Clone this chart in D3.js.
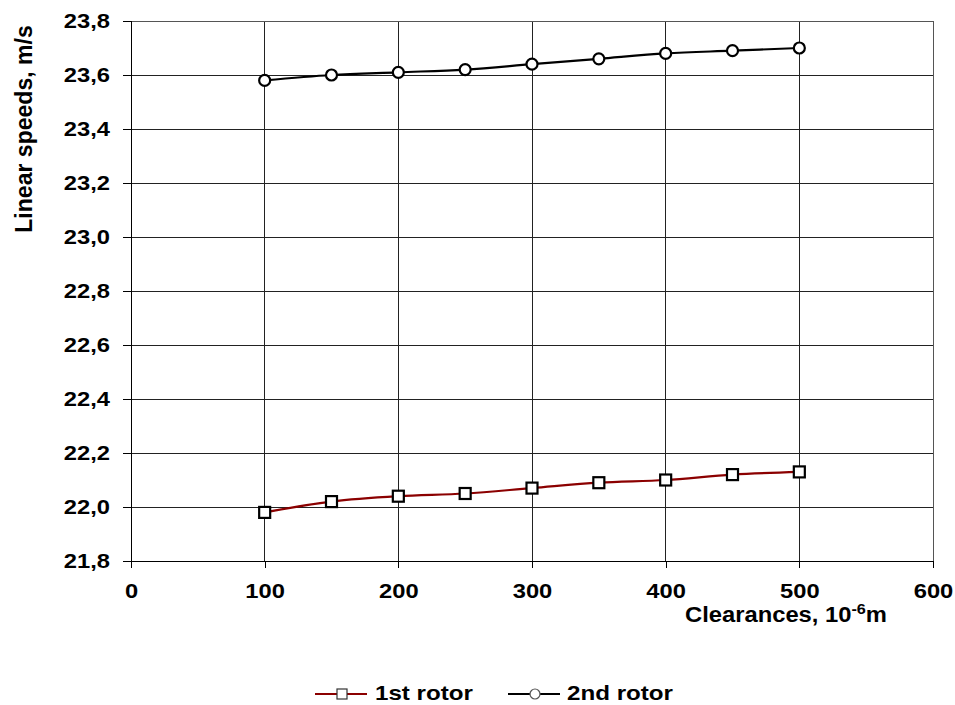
<!DOCTYPE html>
<html><head><meta charset="utf-8">
<script src="https://cdn.jsdelivr.net/npm/d3@7/dist/d3.min.js"></script>
<style>body{margin:0;background:#fff;} text{font-family:"Liberation Sans",Arial,sans-serif;font-weight:bold;fill:#000;}</style>
</head><body><svg id="c" width="955" height="705"></svg>
<script>
const clearances = [100,150,200,250,300,350,400,450,500];
const rotor1 = [21.98,22.02,22.04,22.05,22.07,22.09,22.10,22.12,22.13];
const rotor2 = [23.58,23.60,23.61,23.62,23.64,23.66,23.68,23.69,23.70];
const xTicks = [0,100,200,300,400,500,600];
const yTicks = [21.8,22.0,22.2,22.4,22.6,22.8,23.0,23.2,23.4,23.6,23.8];
const seriesNames = ["1st rotor","2nd rotor"];
const seriesColors = ["#8B0000","#000000"];

const svg = d3.select("#c");
const L=131, R=933, T=21, B=561;
const x = d3.scaleLinear().domain([0,600]).range([L,R]);
const y = d3.scaleLinear().domain([21.8,23.8]).range([B,T]);
const fmt = d => d3.format(".1f")(d).replace(".",",");
function stretch(sel, f){
  sel.each(function(){ const w=this.getComputedTextLength(); d3.select(this).attr("textLength",w*f).attr("lengthAdjust","spacingAndGlyphs"); });
}

// gridlines
svg.append("g").selectAll("line.h").data(yTicks).join("line")
  .attr("x1",L).attr("x2",R).attr("y1",d=>y(d)).attr("y2",d=>y(d))
  .attr("stroke","#222").attr("stroke-width",1).attr("shape-rendering","crispEdges");
svg.append("g").selectAll("line.v").data(xTicks).join("line")
  .attr("y1",T).attr("y2",B).attr("x1",d=>x(d)).attr("x2",d=>x(d))
  .attr("stroke","#222").attr("stroke-width",1).attr("shape-rendering","crispEdges");
svg.append("rect").attr("x",L).attr("y",T).attr("width",R-L).attr("height",B-T)
  .attr("fill","none").attr("stroke","#555").attr("shape-rendering","crispEdges");

// axes
const yAxis = d3.axisLeft(y).tickValues(yTicks).tickFormat(fmt).tickSize(8).tickPadding(13);
const gy = svg.append("g").attr("transform",`translate(${L},0)`).call(yAxis);
const xAxis = d3.axisBottom(x).tickValues(xTicks).tickSize(7).tickPadding(15);
const gx = svg.append("g").attr("transform",`translate(0,${B})`).call(xAxis);
[gy,gx].forEach(g=>{
  g.select(".domain").attr("stroke","#000").attr("shape-rendering","crispEdges");
  g.selectAll(".tick line").attr("stroke","#000").attr("shape-rendering","crispEdges");
  const t = g.selectAll("text").style("font-family","'Liberation Sans',Arial,sans-serif").style("font-weight","bold").style("font-size","21px").attr("fill","#000");
  stretch(t,1.13);
});

// titles
const yt = svg.append("text").attr("transform","translate(32,129) rotate(-90)").attr("text-anchor","middle")
  .style("font-size","24px").text("Linear speeds, m/s");
stretch(yt,0.96);
const xt = svg.append("text").attr("x",887).attr("y",622).attr("text-anchor","end").style("font-size","22px");
xt.append("tspan").text("Clearances, 10");
xt.append("tspan").attr("dy",-8).style("font-size","15px").text("-6");
xt.append("tspan").attr("dy",8).text("m");
stretch(xt,1.08);

// lines
const line = d3.line().x((d,i)=>x(clearances[i])).y(d=>y(d)).curve(d3.curveCatmullRom.alpha(0.5));
[rotor1,rotor2].forEach((s,k)=>{
  svg.append("path").attr("d",line(s)).attr("fill","none").attr("stroke",seriesColors[k]).attr("stroke-width",2.2);
});
// markers
svg.append("g").selectAll("rect").data(rotor1).join("rect")
  .attr("x",(d,i)=>x(clearances[i])-5.5).attr("y",d=>y(d)-5.5).attr("width",11).attr("height",11)
  .attr("fill","#fff").attr("stroke","#000").attr("stroke-width",2.2);
svg.append("g").selectAll("circle").data(rotor2).join("circle")
  .attr("cx",(d,i)=>x(clearances[i])).attr("cy",d=>y(d)).attr("r",5.5)
  .attr("fill","#fff").attr("stroke","#000").attr("stroke-width",2.2);

// legend
const lg = svg.append("g");
const ly = 694;
const items = [{x0:315,name:seriesNames[0],c:seriesColors[0],m:"sq",tx:375},{x0:508,name:seriesNames[1],c:seriesColors[1],m:"ci",tx:567}];
items.forEach(it=>{
  lg.append("line").attr("x1",it.x0).attr("x2",it.x0+52).attr("y1",ly).attr("y2",ly).attr("stroke",it.c).attr("stroke-width",2.2);
  if(it.m==="sq") lg.append("rect").attr("x",it.x0+22).attr("y",ly-5).attr("width",10).attr("height",10).attr("fill","#fff").attr("stroke","#333").attr("stroke-width",1.2);
  else lg.append("circle").attr("cx",it.x0+27).attr("cy",ly).attr("r",5).attr("fill","#fff").attr("stroke","#555").attr("stroke-width",1.2);
  const t = lg.append("text").attr("x",it.tx).attr("y",700).style("font-size","21px").text(it.name);
  stretch(t,1.15);
});
</script></body></html>
